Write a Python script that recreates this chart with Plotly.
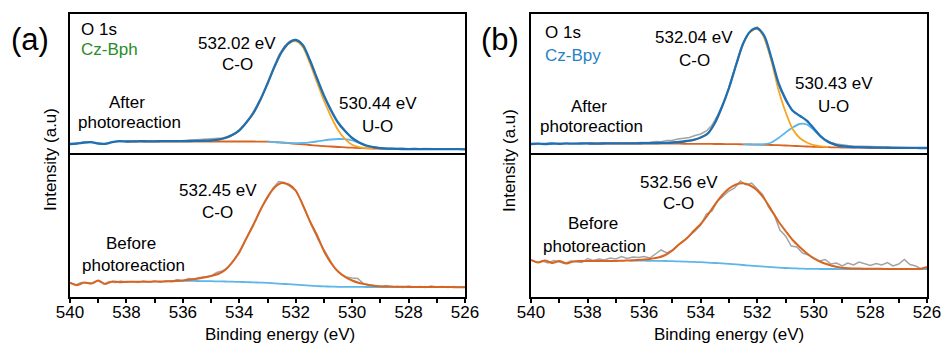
import plotly.graph_objects as go

W, H = 944, 345
FONT = "Liberation Sans, Arial, sans-serif"

# ---------------- data ----------------
x_fit = [540.0, 539.75, 539.5, 539.25, 539.0, 538.75, 538.5, 538.25, 538.0, 537.75,
         537.5, 537.25, 537.0, 536.75, 536.5, 536.25, 536.0, 535.75, 535.5, 535.25,
         535.0, 534.75, 534.5, 534.25, 534.0, 533.75, 533.5, 533.25, 533.0, 532.75,
         532.5, 532.25, 532.0, 531.75, 531.5, 531.25, 531.0, 530.75, 530.5, 530.25,
         530.0, 529.75, 529.5, 529.25, 529.0, 528.75, 528.5, 528.25, 528.0, 527.75,
         527.5, 527.25, 527.0, 526.75, 526.5, 526.25, 526.0]

x_raw = [540.0, 539.8, 539.6, 539.4, 539.2, 539.0, 538.8, 538.6, 538.4, 538.2,
         538.0, 537.8, 537.6, 537.4, 537.2, 537.0, 536.8, 536.6, 536.4, 536.2,
         536.0, 535.8, 535.6, 535.4, 535.2, 535.0, 534.8, 534.6, 534.4, 534.2,
         534.0, 533.8, 533.6, 533.4, 533.2, 533.0, 532.8, 532.6, 532.4, 532.2,
         532.0, 531.8, 531.6, 531.4, 531.2, 531.0, 530.8, 530.6, 530.4, 530.2,
         530.0, 529.8, 529.6, 529.4, 529.2, 529.0, 528.8, 528.6, 528.4, 528.2,
         528.0, 527.8, 527.6, 527.4, 527.2, 527.0, 526.8, 526.6, 526.4, 526.2, 526.0]

N = None

# (a) Cz-Bph, after photoreaction
raw_a_after = [11, 11.3, 12.5, 12.8, 12.5, 11.5, 11.2, 12.5, 13.5, 13.8,
               13.5, 13.6, 14, 13.7, 13.8, 13.6, 14, 13.8, 14.1, 13.9,
               14.3, 14.2, 15, 15.5, 15.3, 16, 16.3, 17, 18.5, 21,
               25, 31, 38.5, 48, 58, 71.5, 85, 100, 108.5, 113.5,
               115.5, 111.5, 101, 89, 73, 58.5, 46, 36, 28, 22,
               17, 13, 10, 8.3, 7.5, 7, 6.5, 7, 6.5, 6.8,
               6.3, 6.7, 6.2, 6.5, 6.2, 6.6, 6.1, 6.3, 6, 6.2, 5.8]
env_a_after = [11, 11.5, 12.5, 12.8, 11.5, 11.2, 12.8, 13.8, 13.5, 13.6,
               13.8, 13.7, 13.7, 13.8, 13.8, 13.9, 13.9, 14, 14.1, 14.3,
               14.5, 15.4, 17, 20, 24.7, 32.5, 42, 55.5, 71.5, 88.5,
               103, 112, 115, 110, 95, 77, 59.5, 45, 32.5, 24,
               17, 12.5, 9.5, 7.8, 6.8, 6.3, 6.1, 6, 5.9, 5.9,
               5.9, 5.8, 5.8, 5.8, 5.8, 5.8, 5.7]
co_a_after = [N, N, N, N, N, N, N, N, N, N,
              N, N, N, N, N, N, N, N, N, N,
              14.3, 15.2, 16.8, 19.8, 24.5, 32.2, 41.7, 55.2, 71, 88,
              102.5, 111.3, 113.8, 108, 92, 73, 54.5, 38.5, 25, 15.8,
              10.2, 7.8, 6.9, 6.4, N, N, N, N, N, N,
              N, N, N, N, N, N, N]
uo_a_after = [N, N, N, N, N, N, N, N, N, N,
              N, N, N, N, N, N, N, N, N, N,
              N, N, N, N, N, N, N, N, 13.3, 13,
              12.5, 12.1, 11.9, 12, 12.6, 13.5, 14.6, 15.5, 16, 15.8,
              14.5, 12, 9.5, 7.8, 6.8, 6.2, 5.9, N, N, N,
              N, N, N, N, N, N, N]
bg_a_after = [N, N, N, N, N, N, N, N, 13.5, 13.5,
              13.5, 13.5, 13.5, 13.5, 13.5, 13.5, 13.5, 13.5, 13.5, 13.5,
              13.5, 13.5, 13.5, 13.5, 13.5, 13.5, 13.5, 13.4, 13.3, 13,
              12.4, 11.8, 11.2, 10.6, 10, 9.4, 8.9, 8.5, 8, 7.6,
              7.3, 7, 6.7, 6.4, 6.2, 6, 5.9, 5.8, 5.8, 5.8,
              5.8, 5.8, 5.8, 5.8, 5.8, 5.8, 5.8]

# (a) Cz-Bph, before photoreaction
raw_a_before = [14, 12, 14.5, 14, 13.5, 16.5, 13, 15.5, 14.5, 16,
                14.8, 15.5, 14.5, 16, 15, 16, 14.8, 16.3, 15.5, 17.5,
                16, 18.5, 18, 19.5, 20.5, 21, 24.5, 26, 30, 37,
                44, 56, 67, 79, 90, 99, 109, 115.5, 114.5, 110.5,
                106, 96, 82, 69, 57, 47, 37.5, 28, 23, 20,
                19, 18.5, 13.5, 12, 11.5, 10, 11.5, 10, 10.5, 9.5,
                11, 10, 10.5, 9.5, 11, 10, 10.5, 9.5, 10.5, 9.8, 10]
fit_a_before = [14.3, 11.8, 14.5, 13.5, 16.5, 13, 15.5, 14.8, 15.3, 15.2,
                15.3, 15.3, 15.4, 15.5, 15.7, 16, 16.5, 17.2, 18.2, 19.5,
                21, 23, 27, 34.5, 45, 58.5, 72, 87, 100, 109.5,
                114, 112.5, 106.5, 92, 76, 62, 46, 34, 25.5, 20,
                16.5, 14, 12.5, 11.3, 10.8, 10.5, 10.3, 10.2, 10.1, 10.1,
                10, 10, 10, 10, 9.9, 9.8, 9.8]
bg_a_before = [N, N, N, N, N, N, N, N, N, N,
               N, N, N, N, 15.7, 15.9, 16.1, 16.1, 16, 15.9,
               15.8, 15.6, 15.5, 15.3, 15.1, 14.9, 14.6, 14.4, 14.2, 13.7,
               13.2, 12.8, 12.3, 11.8, 11.3, 10.9, 10.6, 10.4, 10.2, 10.1,
               10.1, 10.1, 10, 10, 10, 10, 10, 9.9, 9.9, 9.9,
               9.9, 9.9, 9.8, 9.8, 9.8, 9.8, 9.8]

# (b) Cz-Bpy, after photoreaction
raw_b_after = [11, 11.4, 11, 11.6, 11.2, 11.7, 11.3, 11.6, 11.4, 11.8,
               11.5, 11.7, 11.5, 11.9, 11.6, 12, 11.8, 12, 12.2, 12.1,
               12.6, 12.8, 13.5, 13.3, 14.5, 14.8, 16, 17, 17.5, 19.5,
               21, 24, 30, 40, 52, 68, 86, 104, 118, 125.5,
               128, 121, 104, 86, 67, 54, 46, 41, 37.5, 32,
               26, 20, 15.5, 12.5, 11, 10, 9.5, 9, 8.8, 8.3,
               8.2, 7.8, 8, 7.5, 7.6, 7.2, 7.3, 7, 7.1, 6.9, 7]
env_b_after = [11, 11.3, 11, 11.5, 11.2, 11.6, 11.3, 11.5, 11.6, 11.4,
               11.5, 11.6, 11.6, 11.6, 11.7, 11.7, 11.8, 11.9, 12, 12.2,
               12.5, 13, 14, 15.2, 17.5, 21.5, 32, 48, 67, 90,
               111.5, 123.5, 126.7, 119, 97, 72, 56, 44.3, 39.2, 34.5,
               26.5, 18.5, 13.2, 10.4, 8.8, 8.2, 7.8, 7.6, 7.5, 7.4,
               7.3, 7.2, 7.2, 7.1, 7.1, 7, 7]
co_b_after = [N, N, N, N, N, N, N, N, N, N,
              N, N, N, N, N, N, N, N, N, N,
              12.5, 13, 14, 15.2, 17.5, 21.5, 32, 48, 67, 90,
              111.2, 123, 126, 117, 94, 65, 43, 26, 17, 12.5,
              9.8, 8.6, 8, N, N, N, N, N, N, N,
              N, N, N, N, N, N, N]
uo_b_after = [N, N, N, N, N, N, N, N, N, N,
              N, N, N, N, N, N, N, N, N, N,
              N, N, N, N, N, N, N, N, N, N,
              10.7, 10.6, 10.5, 10.8, 12.5, 17, 22.5, 27.5, 31, 30.5,
              25, 18, 13, 10.3, 8.7, 7.9, 7.4, N, N, N,
              N, N, N, N, N, N, N]
bg_b_after = [N, N, N, N, N, N, N, N, 11.5, 11.5,
              11.5, 11.5, 11.5, 11.5, 11.5, 11.5, 11.5, 11.5, 11.4, 11.4,
              11.3, 11.3, 11.2, 11.2, 11.1, 11.1, 11, 11, 10.9, 10.8,
              10.7, 10.5, 10.4, 10.2, 10, 9.8, 9.5, 9.2, 8.8, 8.5,
              8.2, 8, 7.8, 7.6, 7.5, 7.4, 7.3, 7.3, 7.2, 7.2,
              7.2, 7.1, 7.1, 7.1, 7, 7, 7]

# (b) Cz-Bpy, before photoreaction
raw_b_before = [37, 34.5, 36, 34, 36.5, 35, 33.5, 36, 35.5, 34.5,
                38.5, 36.5, 38, 37, 39, 38, 40.5, 38.5, 40, 39.5,
                40.5, 39, 43, 47, 44, 47, 52, 56, 61, 66,
                72, 83, 86, 96, 101, 106, 109, 116, 112, 114,
                108, 102, 90, 82, 67, 61, 51, 50, 44, 42,
                39, 36, 37.5, 33, 34, 31, 34, 32, 35, 33,
                31.5, 33.5, 32, 34.5, 31, 33, 37.5, 32.5, 31, 28, 29]
fit_b_before = [37, 34.5, 36.5, 34, 36, 33.5, 35.5, 36, 36, 36,
                36, 36, 36.1, 36.3, 36.6, 37, 37.5, 38.3, 39.5, 42,
                46.5, 53, 58.5, 66, 73, 82, 92.5, 101.5, 108.5, 112.5,
                113.7, 111.5, 106.5, 98, 87, 75.5, 66, 57, 50, 43.7,
                38.5, 35, 32.5, 30.5, 29.3, 28.8, 28.5, 28.3, 28.2, 28.2,
                28.1, 28.1, 28, 28, 28, 28, 30]
bg_b_before = [N, N, N, N, N, N, N, N, N, N,
               N, N, N, N, 36.4, 36.4, 36.3, 36.2, 36.1, 36,
               35.8, 35.6, 35.3, 35.1, 34.8, 34.4, 34, 33.6, 33.1, 32.6,
               32, 31.4, 30.9, 30.4, 29.9, 29.4, 29, 28.7, 28.4, 28.2,
               28.1, 28, 28, 28, 27.9, 27.9, 27.9, 27.9, 27.9, 27.9,
               27.8, 27.8, 27.8, 27.8, 27.8, 27.8, 27.8]

x_range = [540, 526]

# ---------------- colours ----------------
C_RAW = "#a3a3a3"
C_ENV = "#1f6fb4"
C_CO = "#f6a623"
C_UO = "#5cb6ea"
C_BG = "#d9641f"

fig = go.Figure()


def add(x, y, color, width, ax, spline=True):
    fig.add_trace(go.Scatter(
        x=x, y=y, mode="lines",
        line=dict(color=color, width=width,
                  shape="spline" if spline else "linear", smoothing=0.8),
        xaxis="x" + ax, yaxis="y" + ax, showlegend=False, hoverinfo="skip"))


# (a) top: after
add(x_raw, raw_a_after, C_RAW, 1.5, "", spline=False)
add(x_fit, bg_a_after, C_BG, 1.8, "")
add(x_fit, uo_a_after, C_UO, 1.8, "")
add(x_fit, co_a_after, C_CO, 1.8, "")
add(x_fit, env_a_after, C_ENV, 2.3, "")
# (a) bottom: before
add(x_raw, raw_a_before, C_RAW, 1.5, "2", spline=False)
add(x_fit, bg_a_before, C_UO, 1.8, "2")
add(x_fit, fit_a_before, C_BG, 2.0, "2")
# (b) top: after
add(x_raw, raw_b_after, C_RAW, 1.5, "3", spline=False)
add(x_fit, bg_b_after, C_BG, 1.8, "3")
add(x_fit, uo_b_after, C_UO, 1.8, "3")
add(x_fit, co_b_after, C_CO, 1.8, "3")
add(x_fit, env_b_after, C_ENV, 2.3, "3")
# (b) bottom: before
add(x_raw, raw_b_before, C_RAW, 1.5, "4", spline=False)
add(x_fit, bg_b_before, C_UO, 1.8, "4")
add(x_fit, fit_b_before, C_BG, 2.0, "4")


def xd(l, r):
    return [l / W, r / W]


def yd(t, b):
    return [1 - b / H, 1 - t / H]


base = dict(showline=True, linecolor="black", linewidth=2,
            showgrid=False, zeroline=False, automargin=False)

# top panels: only the top frame line (divider comes from the lower panel)
xa_top = dict(range=x_range, ticks="", showticklabels=False, side="top",
              mirror=False, **base)
xa_bot = dict(range=x_range, ticks="outside", ticklen=4, tickwidth=1.5,
              tickcolor="black", tick0=540, dtick=2, showticklabels=True,
              ticklabelstandoff=-5, mirror=True,
              tickfont=dict(family=FONT, size=17, color="black"),
              minor=dict(ticks="outside", dtick=1, ticklen=4, tickwidth=1.5,
                         tickcolor="black"),
              **base)
ya = dict(ticks="", showticklabels=False, mirror=True, **base)

fig.update_layout(
    width=W, height=H, autosize=False,
    margin=dict(l=0, r=0, t=0, b=0, pad=0, autoexpand=False),
    paper_bgcolor="white", plot_bgcolor="white",
    font=dict(family=FONT, size=17, color="black"),
    xaxis=dict(domain=xd(70, 465), anchor="y", **xa_top),
    yaxis=dict(domain=yd(14, 155), anchor="x", range=[0, 141], **ya),
    xaxis2=dict(domain=xd(70, 465), anchor="y2", **xa_bot),
    yaxis2=dict(domain=yd(155, 297), anchor="x2", range=[0, 142], **ya),
    xaxis3=dict(domain=xd(531, 927), anchor="y3", **xa_top),
    yaxis3=dict(domain=yd(14, 155), anchor="x3", range=[0, 141], **ya),
    xaxis4=dict(domain=xd(531, 927), anchor="y4", **xa_bot),
    yaxis4=dict(domain=yd(155, 297), anchor="x4", range=[0, 142], **ya),
)


def ann(text, x, y, color="black", size=17, xanchor="center", angle=0):
    return dict(text=text, x=x / W, y=1 - y / H, xref="paper", yref="paper",
                showarrow=False, xanchor=xanchor, yanchor="middle",
                textangle=angle,
                font=dict(family=FONT, size=size, color=color))


anns = [
    ann("(a)", 30, 40, size=31),
    ann("(b)", 500, 40, size=31),
    # (a) top
    ann("O 1s", 79, 29, xanchor="left"),
    ann("Cz-Bph", 79, 50, color="#2a8c2a", xanchor="left"),
    ann("532.02 eV", 237, 43),
    ann("C-O", 237, 65),
    ann("After", 127, 102),
    ann("photoreaction", 129.5, 123),
    ann("530.44 eV", 377.5, 103),
    ann("U-O", 377.5, 126),
    # (a) bottom
    ann("532.45 eV", 217.5, 191),
    ann("C-O", 217.5, 212),
    ann("Before", 131, 243),
    ann("photoreaction", 133.5, 265),
    # (b) top
    ann("O 1s", 543, 32, xanchor="left"),
    ann("Cz-Bpy", 543, 55, color="#2a82c4", xanchor="left"),
    ann("532.04 eV", 694, 38),
    ann("C-O", 694, 60),
    ann("530.43 eV", 834, 83),
    ann("U-O", 833, 106),
    ann("After", 589, 106),
    ann("photoreaction", 591, 127),
    # (b) bottom
    ann("532.56 eV", 679, 182),
    ann("C-O", 678, 203),
    ann("Before", 593, 224),
    ann("photoreaction", 594.5, 246),
    # axis titles
    ann("Binding energy (eV)", 280, 334),
    ann("Binding energy (eV)", 729, 334),
    ann("Intensity (a.u)", 50, 160, angle=-90),
    ann("Intensity (a.u)", 509, 160, angle=-90),
]
fig.update_layout(annotations=anns)

fig.write_html("out.html")
